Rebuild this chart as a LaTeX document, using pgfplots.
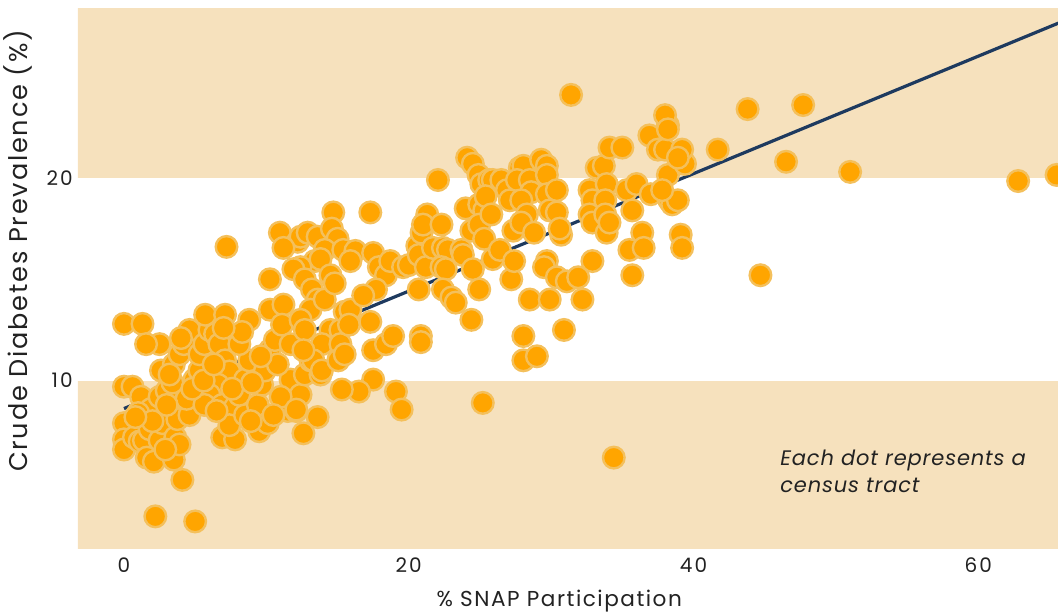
\documentclass[border=0pt]{standalone}
\usepackage{pgfplots}
\pgfplotsset{compat=1.18}
\usepackage{fontspec}
\setmainfont{Poppins}
\newfontfamily\labelfont[LetterSpace=7]{Poppins}
\newfontfamily\tickfont[LetterSpace=10]{Poppins}
\newfontfamily\notefont[LetterSpace=4]{Poppins}
\definecolor{band}{HTML}{F6E1BD}
\definecolor{dotfill}{HTML}{FFA500}
\definecolor{dotedge}{HTML}{F4C05C}
\definecolor{navy}{HTML}{1E3A5F}
\definecolor{txt}{HTML}{222222}
\begin{document}
\begin{tikzpicture}
\path[use as bounding box] (-39pt,-32.5pt) rectangle (490pt,274.5pt);
\begin{axis}[
  scale only axis, width=490pt, height=270pt,
  xmin=-3.23, xmax=65.6, ymin=1.69, ymax=28.34,
  axis line style={draw=none}, tick style={draw=none},
  xtick={0,20,40,60}, ytick={10,20},
  /pgf/number format/assume math mode=true,
  ticklabel style={font=\tickfont\fontsize{10}{12}\selectfont, text=txt},
  xticklabel style={anchor=center, yshift=-8pt},
  yticklabel style={anchor=east, inner sep=0pt, xshift=-2.5pt},
  xlabel={\% SNAP Participation},
  ylabel={Crude Diabetes Prevalence (\%)},
  every axis x label/.style={at={(axis description cs:0.491,-0.097)}, anchor=center, font=\labelfont\fontsize{10.8}{12}\selectfont, text=txt},
  every axis y label/.style={at={(axis description cs:-0.0612,0.552)}, anchor=center, rotate=90, font=\labelfont\fontsize{12.8}{14}\selectfont, text=txt},
  clip=true,
]
\fill[band] (axis cs:-10,0) rectangle (axis cs:80,10);
\fill[band] (axis cs:-10,20) rectangle (axis cs:80,40);
\addplot[only marks, mark=*, mark size=5.4pt, mark options={fill=dotfill, draw=dotedge, line width=1.2pt}] coordinates {
(0.0,12.8)(1.3,12.8)(0.0,9.7)(0.6,9.7)(1.2,9.2)(0.0,7.9)(0.0,7.1)(0.0,6.6)(0.7,7.2)(1.1,7.0)
(1.4,7.05)(1.8,7.6)(1.6,6.2)(2.1,6.0)(2.5,7.05)(2.7,7.9)(2.5,11.8)(1.55,11.8)(2.6,10.5)(1.9,8.6)
(2.5,9.2)(3.0,9.5)(3.4,9.9)(3.5,10.8)(3.9,11.3)(4.2,11.8)(4.6,12.5)(4.1,5.1)(3.5,6.1)(3.6,7.2)
(2.2,3.3)(5.0,3.05)(3.9,6.85)(3.75,8.1)(4.6,8.3)(4.4,9.1)(4.95,10.05)(5.3,10.5)(5.3,11.3)(5.65,11.8)
(6.0,12.5)(5.7,13.25)(7.1,13.25)(7.2,16.6)(6.4,12.3)(6.7,11.8)(7.1,11.0)(7.4,10.45)(6.6,9.8)(6.0,9.3)
(5.65,8.8)(6.9,8.8)(7.8,8.7)(6.9,7.2)(7.8,7.1)(7.4,7.8)(8.5,8.3)(8.1,9.3)(8.5,10.05)(8.8,11.0)
(8.1,11.8)(8.8,13.0)(9.4,8.8)(9.5,7.5)(10.1,7.9)(9.7,9.8)(9.9,10.5)(10.25,11.5)(10.6,12.0)(10.25,13.5)
(10.25,15.0)(11.2,13.75)(11.1,12.76)(11.7,11.8)(11.7,10.05)(11.5,8.5)(12.1,8.5)(12.4,9.3)(12.7,10.3)(13.1,11.0)
(1.0,8.4)(2.0,8.0)(3.0,8.8)(0.8,8.2)(2.9,6.6)(4.8,9.6)(5.6,10.0)(6.3,10.8)(7.6,9.6)(9.0,9.9)
(10.8,10.8)(9.6,11.2)(8.3,12.4)(7.0,12.6)(11.0,9.2)(3.2,10.3)(4.0,12.1)(6.5,8.5)(8.9,8.0)(10.5,8.3)
(10.95,17.3)(12.2,16.85)(12.4,17.1)(11.2,16.55)(12.9,17.3)(13.6,17.1)(14.7,18.3)(14.6,17.5)(15.0,17.0)(14.1,16.45)
(13.4,15.9)(12.4,15.6)(11.9,15.5)(12.7,15.0)(13.2,14.5)(13.8,16.0)(15.4,16.45)(16.25,16.4)(15.9,15.9)(14.5,15.2)
(13.6,14.0)(13.1,13.5)(12.4,13.0)(12.7,12.5)(14.1,14.0)(14.5,12.5)(15.2,12.5)(13.9,11.8)(13.3,11.0)(12.6,11.5)
(13.8,10.3)(13.9,10.5)(15.2,11.8)(15.5,13.4)(15.9,13.5)(15.8,12.76)(15.05,11.0)(15.5,11.3)(17.3,18.3)(17.5,16.3)
(17.9,15.6)(18.4,15.2)(17.7,14.5)(17.3,12.9)(17.5,11.5)(18.4,11.8)(17.5,10.05)(16.5,9.46)(15.3,9.56)(13.6,8.2)
(12.6,7.4)(12.1,8.57)(18.9,12.2)(19.1,9.46)(19.5,8.57)(18.7,15.9)(19.6,15.6)(20.0,15.7)(16.8,14.2)(14.8,14.8)
(22.05,19.9)(20.6,16.65)(20.9,17.3)(20.7,16.2)(20.7,14.5)(20.85,12.2)(20.85,11.9)(21.2,15.6)(21.7,16.55)(21.3,18.2)
(21.0,17.7)(22.3,17.7)(22.4,16.55)(22.75,16.45)(22.3,15.6)(22.6,15.5)(22.4,14.5)(23.0,14.1)(23.3,13.85)(23.7,16.45)
(24.0,18.5)(23.8,16.2)(24.4,17.4)(24.5,15.5)(24.95,14.5)(24.4,13.0)(24.1,21.0)(24.5,20.7)(24.9,20.15)(25.1,19.7)
(24.95,18.7)(25.3,18.4)(24.95,17.7)(25.65,19.9)(25.9,19.9)(25.4,19.1)(25.8,18.2)(25.3,17.0)(25.9,16.0)(25.2,8.9)
(26.5,19.9)(26.9,19.4)(27.1,18.9)(27.35,17.4)(26.4,16.45)(27.2,15.0)(27.4,15.9)(27.8,20.5)(28.05,20.6)(27.6,19.9)
(28.5,19.9)(28.6,19.3)(27.9,18.9)(28.3,18.2)(27.9,17.8)(28.8,17.3)(28.5,14.0)(28.05,12.2)(28.05,11.0)(29.0,11.2)
(29.3,20.9)(29.7,20.6)(29.7,20.15)(29.7,19.2)(30.4,19.4)(29.9,18.4)(30.4,18.3)(29.7,15.9)(29.5,15.6)(30.4,15.1)
(29.9,14.0)(30.9,12.5)(31.4,24.1)(30.7,17.2)(30.6,17.5)(31.1,14.9)(31.9,15.1)(32.2,14.0)(32.9,15.9)(32.7,19.4)
(32.9,18.9)(32.7,18.2)(32.9,17.8)(33.2,20.5)(33.7,20.6)(34.1,21.5)(33.9,19.7)(33.8,18.9)(33.8,18.2)(33.9,17.3)
(34.1,17.8)(34.4,6.2)(35.0,21.5)(35.3,19.4)(35.5,16.45)(35.7,15.2)(35.7,18.4)(36.0,19.7)(36.4,17.3)(36.5,16.55)
(36.9,22.1)(37.5,21.4)(38.0,21.4)(38.2,22.6)(38.2,20.15)(38.0,23.1)(38.2,22.4)(38.3,18.9)(38.5,18.7)(38.9,18.9)
(39.1,17.2)(39.2,16.55)(39.4,20.7)(39.2,21.4)(38.9,21.0)(37.0,19.2)(37.8,19.4)(41.7,21.4)(43.8,23.4)(44.7,15.2)
(46.5,20.8)(47.7,23.6)(51.0,20.3)(62.8,19.85)(65.5,20.15)
};
\addplot[navy, line width=1.6pt] coordinates {(0,8.62) (66,27.75)};
\node[anchor=north west, align=left, font=\notefont\fontsize{10.5}{13.5}\selectfont\itshape, text=txt] at (axis cs:45.6,6.95) {Each dot represents a\\census tract};
\end{axis}
\end{tikzpicture}
\end{document}
